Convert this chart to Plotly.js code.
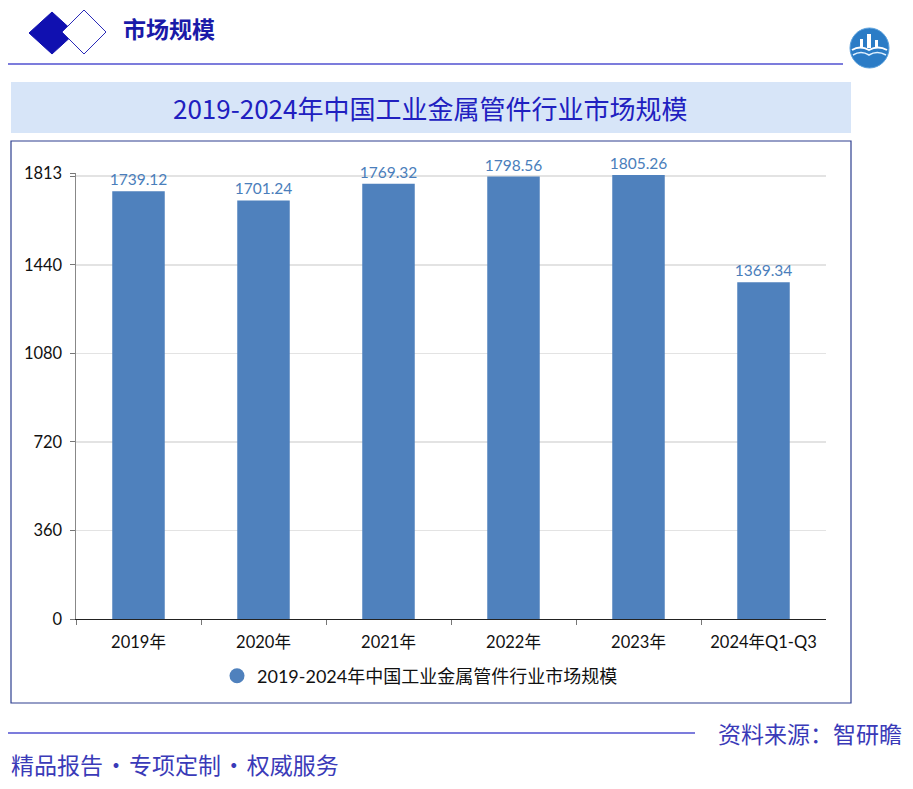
<!DOCTYPE html>
<html>
<head>
<meta charset="utf-8">
<script src="https://cdn.plot.ly/plotly-3.0.1.min.js"></script>
<style>
  body { margin: 0; background: #fff; }
  #chart { width: 913px; height: 789px; }
</style>
</head>
<body>
<div id="chart"></div>
<script>
// data
var years = ["2019年", "2020年", "2021年", "2022年", "2023年", "2024年Q1-Q3"];
var marketSize = [1739.12, 1701.24, 1769.32, 1798.56, 1805.26, 1369.34];
var yTicks = [0, 360, 720, 1080, 1440, 1800, 1813];
var yTickText = ["0", "360", "720", "1080", "1440", "", "1813"];
var seriesName = "2019-2024年中国工业金属管件行业市场规模";

var W = 913, H = 789;
function px(x){ return x / W; }
function py(y){ return 1 - y / H; }
function diamond(cx, cy, hw, hh){
  return "M " + px(cx - hw) + "," + py(cy) + " L " + px(cx) + "," + py(cy - hh) +
    " L " + px(cx + hw) + "," + py(cy) + " L " + px(cx) + "," + py(cy + hh) + " Z";
}

var cjk = '"Noto Sans CJK SC", sans-serif';
var latin = 'Lato, "Noto Sans CJK SC", sans-serif';
var barColor = "#4f81bd";

var traces = [
  {
    type: "bar",
    x: years,
    y: marketSize,
    marker: {color: barColor},
    text: marketSize.map(v => v.toFixed(2)),
    textposition: "outside",
    constraintext: "none",
    cliponaxis: false,
    textfont: {family: latin, size: 15.5, color: "#4a7ebb"},
    showlegend: false,
    hoverinfo: "x+y"
  },
  {
    // legend entry only, the reference uses a round marker
    type: "scatter",
    mode: "markers",
    x: [null],
    y: [null],
    name: seriesName,
    marker: {color: barColor, size: 15, symbol: "circle"}
  }
];

var shapes = [
  // top-left diamonds
  {type: "path", xref: "paper", yref: "paper", path: diamond(52, 33, 23, 21),
   fillcolor: "#1010b0", line: {color: "#1010b0", width: 1}},
  {type: "path", xref: "paper", yref: "paper", path: diamond(84, 32, 22, 22),
   fillcolor: "#ffffff", line: {color: "#2a2ab8", width: 1}},
  // header line
  {type: "line", xref: "paper", yref: "paper", x0: px(8), x1: px(843), y0: py(64), y1: py(64),
   line: {color: "#5050d0", width: 1.3}},
  // logo circle
  {type: "circle", xref: "paper", yref: "paper", x0: px(850), x1: px(889), y0: py(28), y1: py(68),
   fillcolor: "#2b7cc6", line: {color: "#5aa0dc", width: 1}},
  {type: "path", xref: "paper", yref: "paper",
   path: "M " + px(852) + "," + py(50) + " Q " + px(860) + "," + py(45) + " " + px(869) + "," + py(50) + " Q " + px(878) + "," + py(45) + " " + px(887) + "," + py(50),
   line: {color: "#ffffff", width: 2}},
  {type: "path", xref: "paper", yref: "paper",
   path: "M " + px(853) + "," + py(55) + " Q " + px(861) + "," + py(50) + " " + px(869) + "," + py(55) + " Q " + px(877) + "," + py(50) + " " + px(886) + "," + py(55),
   line: {color: "#dff0ff", width: 1.5}},
  {type: "rect", xref: "paper", yref: "paper", x0: px(867), x1: px(871), y0: py(48), y1: py(34),
   fillcolor: "#ffffff", line: {width: 0}},
  {type: "rect", xref: "paper", yref: "paper", x0: px(860), x1: px(863), y0: py(48), y1: py(39),
   fillcolor: "#ffffff", line: {width: 0}},
  {type: "rect", xref: "paper", yref: "paper", x0: px(875), x1: px(878), y0: py(48), y1: py(40),
   fillcolor: "#ffffff", line: {width: 0}},
  // title band
  {type: "rect", xref: "paper", yref: "paper", x0: px(11), x1: px(851), y0: py(133), y1: py(82),
   fillcolor: "#d7e5f8", line: {width: 0}, layer: "below"},
  // chart frame
  {type: "rect", xref: "paper", yref: "paper", x0: px(11), x1: px(851), y0: py(703), y1: py(141),
   fillcolor: "rgba(0,0,0,0)", line: {color: "#2e3f8f", width: 1.2}},
  // footer line
  {type: "line", xref: "paper", yref: "paper", x0: px(8), x1: px(695), y0: py(733), y1: py(733),
   line: {color: "#5050d0", width: 1.3}}
];

var annotations = [
  {text: "<b>市场规模</b>", xref: "paper", yref: "paper", x: px(121), y: py(28),
   xanchor: "left", yanchor: "middle", showarrow: false,
   font: {family: cjk, size: 23, color: "#1a1aa8"}},
  {text: "2019-2024年中国工业金属管件行业市场规模", xref: "paper", yref: "paper", x: px(430), y: py(107),
   xanchor: "center", yanchor: "middle", showarrow: false,
   font: {family: cjk, size: 26, color: "#2020c0"}},
  {text: "资料来源：智研瞻", xref: "paper", yref: "paper", x: px(904), y: py(733),
   xanchor: "right", yanchor: "middle", showarrow: false,
   font: {family: cjk, size: 23, color: "#3a3ab8"}},
  {text: "精品报告\u200a•\u200a专项定制\u200a•\u200a权威服务", xref: "paper", yref: "paper", x: px(9), y: py(764),
   xanchor: "left", yanchor: "middle", showarrow: false,
   font: {family: cjk, size: 23, color: "#3a3ab8"}}
];

var layout = {
  width: W,
  height: H,
  margin: {l: 0, r: 0, t: 0, b: 0},
  paper_bgcolor: "#ffffff",
  plot_bgcolor: "rgba(0,0,0,0)",
  bargap: 0.58,
  showlegend: true,
  legend: {
    orientation: "h",
    x: px(420), xanchor: "center",
    y: py(676), yanchor: "middle",
    font: {family: latin, size: 18, color: "#111"},
    itemwidth: 30
  },
  xaxis: {
    domain: [px(76), px(826)],
    type: "category",
    showline: true,
    linecolor: "#222",
    linewidth: 1.2,
    ticks: "outside",
    tickson: "boundaries",
    ticklen: 5,
    tickcolor: "#777",
    showgrid: false,
    ticklabelstandoff: 8,
    tickfont: {family: latin, size: 16.5, color: "#111"},
    fixedrange: true
  },
  yaxis: {
    domain: [py(619), py(173)],
    range: [0, 1813],
    tickmode: "array",
    tickvals: yTicks,
    ticktext: yTickText,
    showline: true,
    linecolor: "#888",
    linewidth: 1.5,
    ticks: "outside",
    ticklen: 5,
    tickcolor: "#777",
    showgrid: true,
    gridcolor: "#e3e3e3",
    gridwidth: 1.5,
    zeroline: false,
    ticklabelstandoff: 4,
    tickfont: {family: latin, size: 16.5, color: "#111"},
    fixedrange: true
  },
  shapes: shapes,
  annotations: annotations
};

Plotly.newPlot("chart", traces, layout, {displayModeBar: false, staticPlot: true});
</script>
</body>
</html>
